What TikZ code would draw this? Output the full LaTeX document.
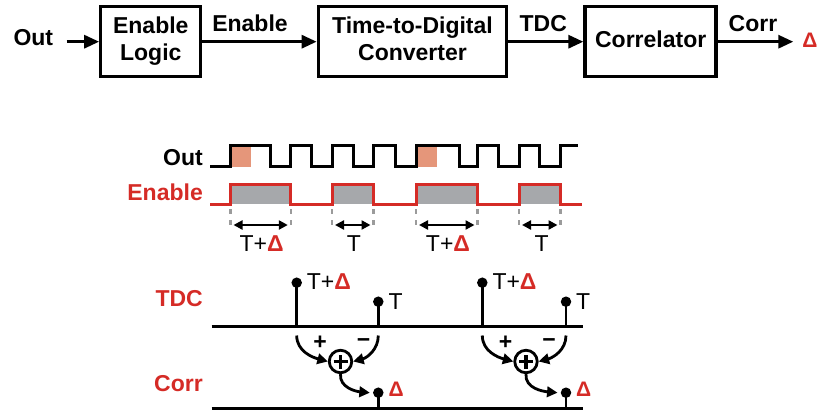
\documentclass[tikz,border=0pt]{standalone}
\usepackage{fontspec}
\setmainfont{Liberation Sans}
\usetikzlibrary{arrows.meta}
\definecolor{myred}{RGB}{213,43,38}
\definecolor{fillgray}{RGB}{166,168,171}
\definecolor{mkgray}{RGB}{155,155,155}
\definecolor{deltaor}{RGB}{229,150,122}
\begin{document}
\begin{tikzpicture}[x=1pt,y=-1pt,
  block/.style={draw,line width=3.3pt,inner sep=0pt,minimum height=70pt},
  lbl/.style={inner sep=0pt,font=\bfseries\fontsize{23}{26}\selectfont},
  rlbl/.style={inner sep=0pt,text=myred,font=\bfseries\fontsize{23}{26}\selectfont},
  tlbl/.style={inner sep=0pt,font=\fontsize{23}{26}\selectfont},
  arr/.style={line width=3pt,-{Triangle[length=15pt,width=13pt]}},
  darr/.style={line width=2.6pt,{Triangle[length=9pt,width=9pt]}-{Triangle[length=9pt,width=9pt]}},
  carr/.style={line width=2.8pt,-{Triangle[length=10.5pt,width=10.5pt]}},
  wave/.style={line width=3pt,line join=miter},
  dot/.style={circle,fill,inner sep=0pt,minimum size=10.5pt},
  stem/.style={line width=2.9pt},
  sumc/.style={circle,draw,line width=2.8pt,minimum size=22.5pt,inner sep=0pt},
  edgemark/.style={mkgray,line width=2.6pt,dash pattern=on 5pt off 6pt}]
\useasboundingbox (0,0) rectangle (817,410);

% ---------- block diagram ----------
\node[block,minimum width=100pt] (el) at (150.8,41.7) {};
\node[block,minimum width=188.4pt] (tdc) at (412.5,41.7) {};
\node[block,minimum width=131pt] (cor) at (650.5,41.7) {};
\node[lbl,anchor=base] (elt1) at (150.8,33.3) {Enable};
\node[lbl,anchor=base] (elt2) at (150.8,60) {Logic};
\node[lbl,anchor=base] (tdct1) at (412.5,33.3) {Time-to-Digital};
\node[lbl,anchor=base] (tdct2) at (412.5,60) {Converter};
\node[lbl,anchor=base] (cort) at (650.7,47.5) {Correlator};

\node[lbl,anchor=base] (outt) at (33.3,45) {Out};
\node[lbl,anchor=base] (ent) at (250,31.7) {Enable};
\node[lbl,anchor=base] (tdcl) at (543.3,31.7) {TDC};
\node[lbl,anchor=base] (corl) at (753,31.7) {Corr};
\node[anchor=base,inner sep=0pt,text=myred,font=\bfseries\fontsize{21}{24}\selectfont] (dtop) at (810,47) {Δ};

\coordinate (o0) at (66.7,41.7);
\coordinate (o9) at (793.3,41.7);
\draw[arr] (o0) -- (o0 -| el.west);
\draw[arr] (el.east |- o0) -- (tdc.west |- o0);
\draw[arr] (tdc.east |- o0) -- (cor.west |- o0);
\draw[arr] (cor.east |- o0) -- (o9);

% ---------- waveforms ----------
\node[lbl,anchor=base east] (wout) at (203,165) {Out};
\node[rlbl,anchor=base east] (wen) at (203,200) {Enable};

\fill[deltaor] (230.5,145.7) rectangle (250.7,166.7);
\fill[deltaor] (416,145.7) rectangle (437.3,166.7);
\draw[wave] (210,166.7) -- (230.5,166.7) -- (230.5,145.7) -- (270.7,145.7) -- (270.7,166.7)
  -- (290.8,166.7) -- (290.8,145.7) -- (311.7,145.7) -- (311.7,166.7)
  -- (332,166.7) -- (332,145.7) -- (353,145.7) -- (353,166.7)
  -- (373.5,166.7) -- (373.5,145.7) -- (395,145.7) -- (395,166.7)
  -- (416,166.7) -- (416,145.7) -- (459,145.7) -- (459,166.7)
  -- (477.5,166.7) -- (477.5,145.7) -- (498.3,145.7) -- (498.3,166.7)
  -- (519,166.7) -- (519,145.7) -- (539.3,145.7) -- (539.3,166.7)
  -- (560.5,166.7) -- (560.5,145.7) -- (578,145.7);

\foreach \a/\b in {230.5/290.8,332/373.5,416/477.5,519/560.5}
  \fill[fillgray] (\a,184.3) rectangle (\b,204.3);
\draw[wave,myred] (210,204.3) -- (230.5,204.3) -- (230.5,184.3) -- (290.8,184.3) -- (290.8,204.3)
  -- (332,204.3) -- (332,184.3) -- (373.5,184.3) -- (373.5,204.3)
  -- (416,204.3) -- (416,184.3) -- (477.5,184.3) -- (477.5,204.3)
  -- (519,204.3) -- (519,184.3) -- (560.5,184.3) -- (560.5,204.3) -- (581.7,204.3);

\foreach \x in {230.5,290.8,332,373.5,416,477.5,519,560.5}
  \draw[edgemark] (\x,209) -- (\x,229);
\foreach \a/\b in {230.5/290.8,332/373.5,416/477.5,519/560.5}
  \draw[darr] (\a+3,225) -- (\b-3,225);

\node[tlbl,anchor=base] (w1) at (261.7,251.7) {T+\textcolor{myred}{\bfseries Δ}};
\node[tlbl,anchor=base] (w2) at (354,251.7) {T};
\node[tlbl,anchor=base] (w3) at (448,251.7) {T+\textcolor{myred}{\bfseries Δ}};
\node[tlbl,anchor=base] (w4) at (541.7,251.7) {T};

% ---------- TDC / Corr ----------
\node[rlbl,anchor=base east] (ltdc) at (203,306.7) {TDC};
\node[rlbl,anchor=base east] (lcorr) at (203,391.7) {Corr};

\coordinate (tA) at (211.7,326.7);
\coordinate (tB) at (583,326.7);
\coordinate (cA) at (211.7,408.3);
\coordinate (cB) at (583,408.3);
\draw[stem] (tA) -- (tB);
\draw[stem] (cA) -- (cB);

\foreach \g/\ax/\bx/\sx in {1/296.7/378.3/340.5, 2/482.3/566/526}{
  \node[dot] (a\g) at (\ax,282.7) {};
  \node[dot] (b\g) at (\bx,301.7) {};
  \node[dot] (c\g) at (\bx,392.7) {};
  \draw[stem] (a\g.center) -- (a\g.center |- tA);
  \draw[stem] (b\g.center) -- (b\g.center |- tA);
  \draw[stem] (c\g.center) -- (c\g.center |- cA);
  \node[tlbl,anchor=base west] (ta\g) at (\ax+10,289.7) {T+\textcolor{myred}{\bfseries Δ}};
  \node[tlbl,anchor=base west] (tb\g) at (\bx+10,309) {T};
  \node[rlbl,anchor=base west,font=\bfseries\fontsize{21}{24}\selectfont] (tc\g) at (\bx+10,396.7) {Δ};
  \node[sumc] (s\g) at (\sx,361.5) {};
  \draw[line width=3.6pt] ([xshift=-7pt]s\g.center) -- ([xshift=7pt]s\g.center);
  \draw[line width=3.6pt] ([yshift=-7pt]s\g.center) -- ([yshift=7pt]s\g.center);
  \node[tlbl,font=\bfseries\fontsize{23}{26}\selectfont] (pl\g) at (\sx-20.5,343) {+};
  \node[tlbl,font=\bfseries\fontsize{23}{26}\selectfont] (mi\g) at (\sx+23,342.7) {−};
  \coordinate (p\g) at (\ax,335.5);
  \coordinate (q\g) at (\bx,335.5);
  \draw[carr] (p\g) to[out=-90,in=165] (s\g.west);
  \draw[carr] (q\g) to[out=-90,in=15] (s\g.east);
  \draw[carr] (s\g.south) to[out=-95,in=175] ([xshift=-3pt]c\g.west);
}
\end{tikzpicture}
\end{document}
